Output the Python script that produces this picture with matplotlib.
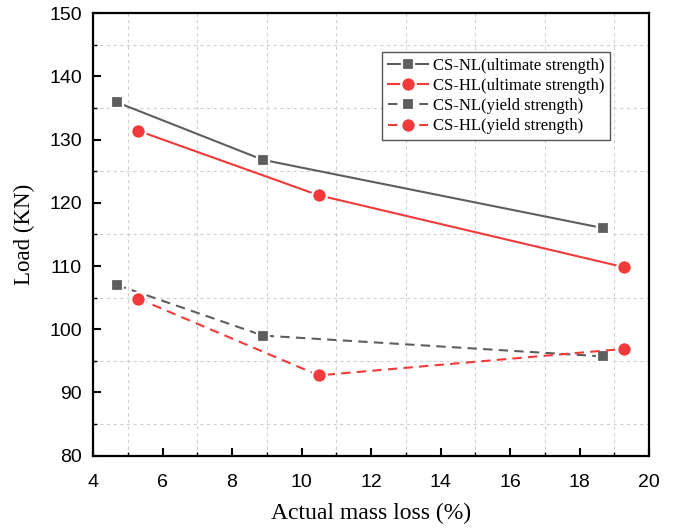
import matplotlib

matplotlib.use("Agg")
import matplotlib.pyplot as plt
from matplotlib.ticker import MultipleLocator

# data
nl_loss = [4.69, 8.89, 18.68]
hl_loss = [5.30, 10.49, 19.29]
nl_ultimate = [135.9, 126.8, 116.0]
hl_ultimate = [131.4, 121.2, 109.8]
nl_yield = [107.0, 99.0, 95.7]
hl_yield = [104.85, 92.7, 96.9]

gray = "#5e5e5e"
red = "#f23a3a"
serif = ["Liberation Serif", "DejaVu Serif"]
plt.rcParams["font.family"] = ["Liberation Sans", "DejaVu Sans"]

fig = plt.figure(figsize=(6.74, 5.28), dpi=100)
ax = fig.add_axes([0.138, 0.137, 0.825, 0.838])

common = dict(lw=1.5, mec="white", mew=1.6)
ax.plot(nl_loss, nl_ultimate, color=gray, marker="s", ms=9, mfc=gray,
        label="CS-NL(ultimate strength)", **common)
ax.plot(hl_loss, hl_ultimate, color=red, marker="o", ms=10.5, mfc=red,
        label="CS-HL(ultimate strength)", **common)
ax.plot(nl_loss, nl_yield, color=gray, marker="s", ms=9, mfc=gray, ls=(0, (4.5, 3)),
        label="CS-NL(yield strength)", **common)
ax.plot(hl_loss, hl_yield, color=red, marker="o", ms=10.5, mfc=red, ls=(0, (4.5, 3)),
        label="CS-HL(yield strength)", **common)

ax.set_xlim(4, 20)
ax.set_ylim(80, 150)
ax.xaxis.set_major_locator(MultipleLocator(2))
ax.xaxis.set_minor_locator(MultipleLocator(1))
ax.yaxis.set_major_locator(MultipleLocator(10))
ax.yaxis.set_minor_locator(MultipleLocator(5))
ax.grid(which="minor", color="#cfcfcf", ls=(0, (3, 3)), lw=0.8)
ax.grid(which="major", visible=False)
ax.set_axisbelow(True)

ax.tick_params(which="major", direction="in", length=6, width=1.5,
               top=False, right=False, labelsize=14)
ax.tick_params(axis="x", which="major", pad=13)
ax.tick_params(axis="y", which="major", pad=8)
ax.tick_params(which="minor", direction="in", length=3, width=1.0,
               top=False, right=False)
for sp in ax.spines.values():
    sp.set_linewidth(1.6)

ax.set_xlabel("Actual mass loss (%)", fontsize=17, family=serif, labelpad=9)
ax.set_ylabel("Load (KN)", fontsize=16.5, family=serif, labelpad=10)

leg = ax.legend(loc="upper right", bbox_to_anchor=(0.93, 0.912),
                prop={"family": serif, "size": 12}, frameon=True, fancybox=False,
                edgecolor="#555555", framealpha=1, handlelength=2.4,
                handletextpad=0.3, borderpad=0.35, labelspacing=0.25,
                borderaxespad=0.0)
leg.get_frame().set_linewidth(1.0)

fig.savefig("out.png", dpi=100)
